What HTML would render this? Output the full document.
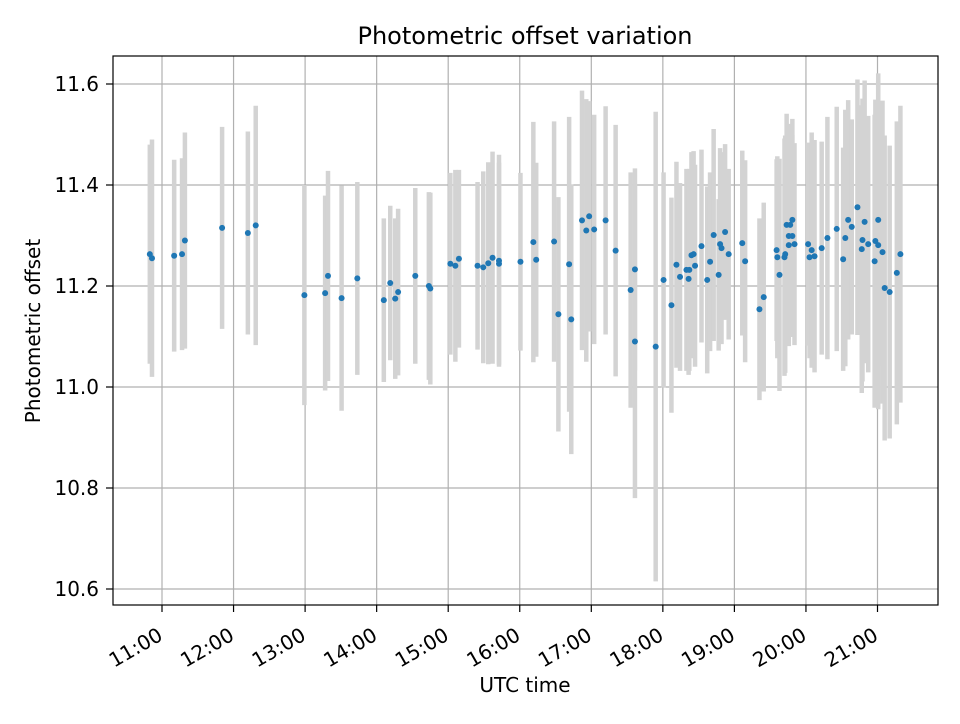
<!DOCTYPE html>
<html><head><meta charset="utf-8"><style>
body{margin:0;background:#fff;font-family:"DejaVu Sans","Liberation Sans",sans-serif}
svg text{font-family:"DejaVu Sans","Liberation Sans",sans-serif}
</style></head><body>
<svg id="chart" width="960" height="720" xmlns="http://www.w3.org/2000/svg">
<rect width="960" height="720" fill="#fff"/>
<text x="525" y="44" style="font-size:24px" text-anchor="middle">Photometric offset variation</text>
<g id="grid"></g>
<g id="bars"></g>
<g id="pts"></g>
<rect x="113" y="56" width="825" height="549" fill="none" stroke="#000" stroke-width="1.2"/>
<g id="ticks"></g>
<text x="525" y="692" style="font-size:20px" text-anchor="middle">UTC time</text>
<text x="0" y="0" style="font-size:20px" text-anchor="middle" transform="translate(40,331) rotate(-90)">Photometric offset</text>
</svg>
<script>
const hours=[10.83,10.86,11.17,11.28,11.32,11.84,12.20,12.31,12.99,13.28,13.32,13.51,13.73,14.10,14.19,14.26,14.30,14.54,14.73,14.75,15.03,15.10,15.15,15.41,15.49,15.56,15.62,15.71,15.71,16.01,16.19,16.23,16.48,16.54,16.69,16.72,16.87,16.93,16.97,17.04,17.20,17.34,17.55,17.61,17.61,17.90,
18.01,18.12,18.19,18.24,18.33,18.37,18.36,18.40,18.43,18.45,18.54,18.62,18.66,18.71,18.78,18.80,18.82,18.87,18.92,19.11,19.15,19.35,19.41,19.59,19.60,19.63,19.70,19.71,19.73,19.76,19.76,19.78,19.81,19.81,19.84,20.03,20.05,20.08,20.12,20.22,20.30,20.43,20.52,20.55,20.59,20.64,20.72,20.78,20.79,20.82,20.87,20.96,20.97,21.01,21.01,21.07,21.10,21.17,21.27,21.32];
const offsets=[11.263,11.255,11.26,11.263,11.29,11.315,11.305,11.32,11.182,11.186,11.22,11.176,11.215,11.172,11.206,11.175,11.188,11.22,11.2,11.195,11.244,11.24,11.254,11.24,11.237,11.245,11.256,11.25,11.244,11.248,11.287,11.252,11.288,11.144,11.243,11.134,11.33,11.31,11.338,11.312,11.33,11.27,11.192,11.233,11.09,11.08,
11.212,11.162,11.242,11.218,11.232,11.232,11.214,11.261,11.263,11.24,11.279,11.212,11.248,11.301,11.222,11.283,11.275,11.307,11.263,11.285,11.249,11.154,11.178,11.271,11.257,11.222,11.257,11.263,11.321,11.299,11.281,11.321,11.331,11.299,11.283,11.283,11.257,11.271,11.259,11.275,11.295,11.313,11.253,11.295,11.331,11.317,11.356,11.273,11.291,11.327,11.283,11.249,11.289,11.331,11.281,11.267,11.196,11.188,11.226,11.263];
const errors=[0.217,0.235,0.19,0.19,0.214,0.2,0.201,0.237,0.218,0.193,0.208,0.223,0.191,0.162,0.153,0.159,0.165,0.174,0.186,0.19,0.18,0.19,0.176,0.166,0.19,0.2,0.21,0.21,0.2,0.176,0.238,0.192,0.238,0.232,0.292,0.267,0.257,0.26,0.228,0.227,0.226,0.249,0.233,0.2,0.31,0.465,
0.213,0.213,0.204,0.186,0.2,0.2,0.19,0.204,0.204,0.2,0.191,0.185,0.177,0.21,0.15,0.19,0.19,0.174,0.169,0.183,0.2,0.18,0.187,0.18,0.2,0.23,0.235,0.235,0.22,0.2,0.2,0.2,0.2,0.2,0.2,0.201,0.2,0.233,0.23,0.211,0.24,0.242,0.221,0.254,0.237,0.213,0.253,0.285,0.28,0.28,0.254,0.29,0.28,0.29,0.325,0.3,0.302,0.29,0.3,0.294];
const xTicks=[11,12,13,14,15,16,17,18,19,20,21];
const xTickLabels=["11:00","12:00","13:00","14:00","15:00","16:00","17:00","18:00","19:00","20:00","21:00"];
const yTicks=[10.6,10.8,11.0,11.2,11.4,11.6];
const yTickLabels=["10.6","10.8","11.0","11.2","11.4","11.6"];
const NS="http://www.w3.org/2000/svg";
const X=h=>162+(h-11)*71.55;
const Y=v=>84+(11.6-v)*505;
function mk(tag,attrs,parent){const e=document.createElementNS(NS,tag);for(const k in attrs)e.setAttribute(k,attrs[k]);parent.appendChild(e);return e;}
const grid=document.getElementById('grid'),ticks=document.getElementById('ticks'),bars=document.getElementById('bars'),pts=document.getElementById('pts');
xTicks.forEach((t,i)=>{
 const x=X(t);
 const g=mk('line',{x1:x,x2:x,y1:56,y2:605,stroke:'#b0b0b0','stroke-width':1.2},grid);
 
 
 const tk=mk('line',{x1:x,x2:x,y1:605,y2:612,stroke:'#000','stroke-width':1.2},ticks);
 
 
 const tl=mk('text',{x:0,y:0,style:'font-size:20px','text-anchor':'end',transform:`translate(${x+2},${639}) rotate(-30)`},ticks);
 tl.textContent=xTickLabels[i];
 
 
});
yTicks.forEach((t,i)=>{
 const y=Y(t);
 const g=mk('line',{x1:113,x2:938,y1:y,y2:y,stroke:'#b0b0b0','stroke-width':1.2},grid);
 
 
 const tk=mk('line',{x1:106,x2:113,y1:y,y2:y,stroke:'#000','stroke-width':1.2},ticks);
 
 
 const tl=mk('text',{x:99,y:y+7,style:'font-size:20px','text-anchor':'end'},ticks);
 tl.textContent=yTickLabels[i];
 
 
});
hours.forEach((h,i)=>{
 const x=X(h);
 const b=mk('line',{x1:x,x2:x,y1:Y(offsets[i]+errors[i]),y2:Y(offsets[i]-errors[i]),stroke:'#d3d3d3','stroke-width':4.5},bars);
 
 
});
hours.forEach((h,i)=>{
 const c=mk('circle',{cx:X(h),cy:Y(offsets[i]),r:3,fill:'#1f77b4'},pts);
 
 
});
</script>
</body></html>
